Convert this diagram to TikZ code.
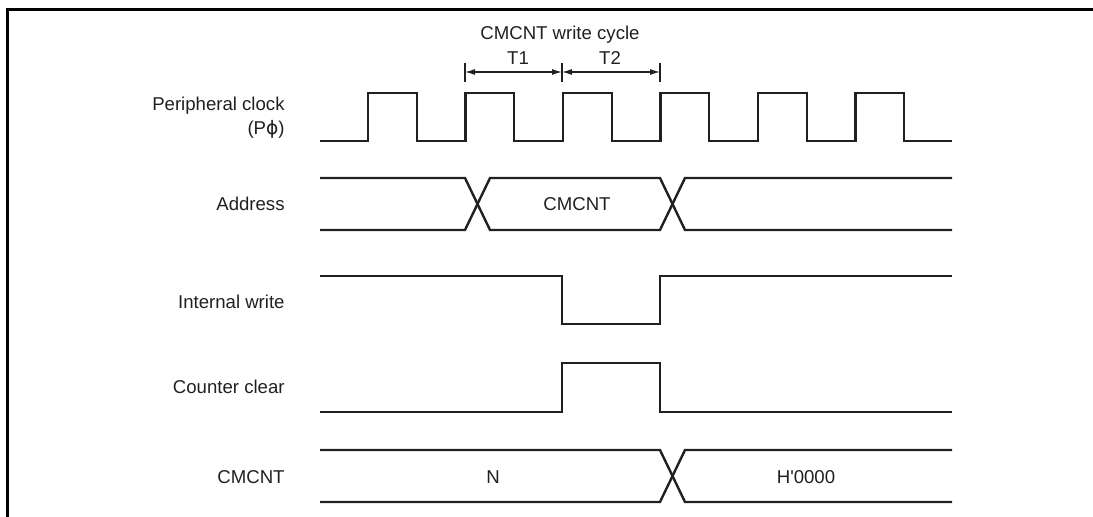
\documentclass[tikz,border=0pt]{standalone}
\usepackage{fontspec}
\setmainfont{Liberation Sans}
\newfontfamily\greekfont{DejaVu Sans}
\usetikzlibrary{calc, arrows.meta}

\begin{document}
\begin{tikzpicture}[x=0.5pt, y=-0.5pt,
    signal/.style={draw=lineColour, line width=1.2pt},
    dimLine/.style={draw=lineColour, line width=0.6pt},
    sigLabel/.style={anchor=east, text=lineColour, inner sep=0pt, font=\fontsize{9.3}{11}\selectfont},
    busText/.style={text=lineColour, inner sep=0pt, font=\fontsize{9.3}{11}\selectfont}]
    % Define waveform limits
    \def\xStart{320}
    \def\xEnd{952}
    \def\period{97.5}

    \definecolor{lineColour}{HTML}{231F20}

    \useasboundingbox (0,0) rectangle (1093,517);

    % Draw frame
    \draw[line width=1.5pt] (7,517) -- (7,10) -- (1093,10);

    % Write cycle marks
    \node[busText] (cycleTitle) at (560,35) {CMCNT write cycle};
    \coordinate (tA) at (465,72);
    \coordinate (tB) at (562,72);
    \coordinate (tC) at (660,72);
    \foreach \t in {tA,tB,tC}
        \draw[dimLine] ($(\t)+(0,-9)$) -- ($(\t)+(0,10)$);
    \draw[dimLine, {Latex[length=5pt,width=3pt]}-{Latex[length=5pt,width=3pt]}] (tA) -- (tB);
    \draw[dimLine, {Latex[length=5pt,width=3pt]}-{Latex[length=5pt,width=3pt]}] (tB) -- (tC);
    \node[busText] (tOne) at (518,58) {T1};
    \node[busText] (tTwo) at (610,58) {T2};

    % Peripheral clock
    \node[sigLabel] (clkLabel) at (285,106) {Peripheral clock};
    \node[sigLabel] (clkSub) at (285,129) {(P{\greekfont ϕ})};
    \draw[signal] (\xStart,141) \foreach \i in {0,...,5} {
        -- ({368+\period*\i},141) -- ++(0,-48) -- ++(48.75,0) -- ++(0,48) } -- (\xEnd,141);

    % Address
    \node[sigLabel] (addrLabel) at (285,204) {Address};
    \draw[signal] (\xStart,178) -- (465,178) -- (490,230) -- (660,230) -- (685,178) -- (\xEnd,178);
    \draw[signal] (\xStart,230) -- (465,230) -- (490,178) -- (660,178) -- (685,230) -- (\xEnd,230);
    \node[busText] (addrValue) at (577,204) {CMCNT};

    % Internal write
    \node[sigLabel] (wrLabel) at (285,302) {Internal write};
    \draw[signal] (\xStart,276) -- (562,276) -- (562,324) -- (660,324) -- (660,276) -- (\xEnd,276);

    % Counter clear
    \node[sigLabel] (clrLabel) at (285,387) {Counter clear};
    \draw[signal] (\xStart,412) -- (562,412) -- (562,363) -- (660,363) -- (660,412) -- (\xEnd,412);

    % CMCNT
    \node[sigLabel] (cntLabel) at (285,477) {CMCNT};
    \draw[signal] (\xStart,450) -- (660,450) -- (685,502) -- (\xEnd,502);
    \draw[signal] (\xStart,502) -- (660,502) -- (685,450) -- (\xEnd,450);
    \node[busText] (cntOld) at (493,477) {N};
    \node[busText] (cntNew) at (806,477) {H\textquotesingle 0000};

\end{tikzpicture}
\end{document}
